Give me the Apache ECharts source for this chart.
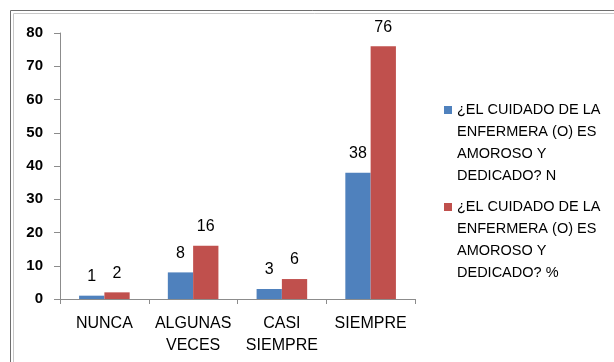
<!DOCTYPE html>
<html><head><meta charset="utf-8">
<script src="https://cdn.jsdelivr.net/npm/echarts@6/dist/echarts.min.js"></script>
<style>html,body{margin:0;padding:0;background:#fff}#c{width:614px;height:362px}</style>
</head><body><div id="c"></div>
<script>
const categories = ['NUNCA', 'ALGUNAS\nVECES', 'CASI\nSIEMPRE', 'SIEMPRE'];
const seriesNames = [
  '¿EL CUIDADO DE LA\nENFERMERA (O) ES\nAMOROSO Y\nDEDICADO? N',
  '¿EL CUIDADO DE LA\nENFERMERA (O) ES\nAMOROSO Y\nDEDICADO? %'
];
const valuesN = [1, 8, 3, 38];
const valuesPct = [2, 16, 6, 76];
const yTicks = {min: 0, max: 80, interval: 10};

const font = 'Liberation Sans, Arial, sans-serif';
const chart = echarts.init(document.getElementById('c'), null, {renderer: 'canvas'});
const labelCfg = {show: true, position: 'top', distance: 11, color: '#000', fontSize: 16, fontFamily: font};
chart.setOption({
  animation: false,
  graphic: [
    {type: 'rect', shape: {x: 10.5, y: 10.5, width: 800, height: 600}, style: {fill: 'none', stroke: '#6e6e6e', lineWidth: 1}, silent: true},
    {type: 'rect', shape: {x: 13.5, y: 13.5, width: 800, height: 600}, style: {fill: 'none', stroke: '#c8c8c8', lineWidth: 1}, silent: true}
  ],
  grid: {left: 60, top: 33, width: 355, height: 266, containLabel: false},
  legend: {
    orient: 'vertical', left: 439, top: 28, itemGap: -57,
    itemWidth: 8, itemHeight: 8, icon: 'rect',
    formatter: function (name) { return '\n\n\n' + name; },
    textStyle: {fontFamily: font, fontSize: 14.5, color: '#000', lineHeight: 22},
    data: seriesNames
  },
  xAxis: {
    type: 'category', data: categories,
    axisLine: {lineStyle: {color: '#8c8c8c'}},
    axisTick: {show: true, alignWithLabel: false, length: 5, lineStyle: {color: '#8c8c8c'}},
    axisLabel: {color: '#000', fontSize: 16, fontFamily: font, margin: 14, lineHeight: 22, interval: 0}
  },
  yAxis: {
    type: 'value', min: yTicks.min, max: yTicks.max, interval: yTicks.interval,
    splitLine: {show: false},
    axisLine: {show: true, lineStyle: {color: '#8c8c8c'}},
    axisTick: {show: true, length: 6, lineStyle: {color: '#8c8c8c'}},
    axisLabel: {color: '#000', fontSize: 15, fontWeight: 'bold', fontFamily: font, margin: 17}
  },
  series: [
    {name: seriesNames[0], type: 'bar', data: valuesN, barGap: '0%', barCategoryGap: '43%',
     itemStyle: {color: '#4f81bd'}, label: labelCfg},
    {name: seriesNames[1], type: 'bar', data: valuesPct, barGap: '0%', barCategoryGap: '43%',
     itemStyle: {color: '#c0504d'}, label: labelCfg}
  ]
});
</script></body></html>
